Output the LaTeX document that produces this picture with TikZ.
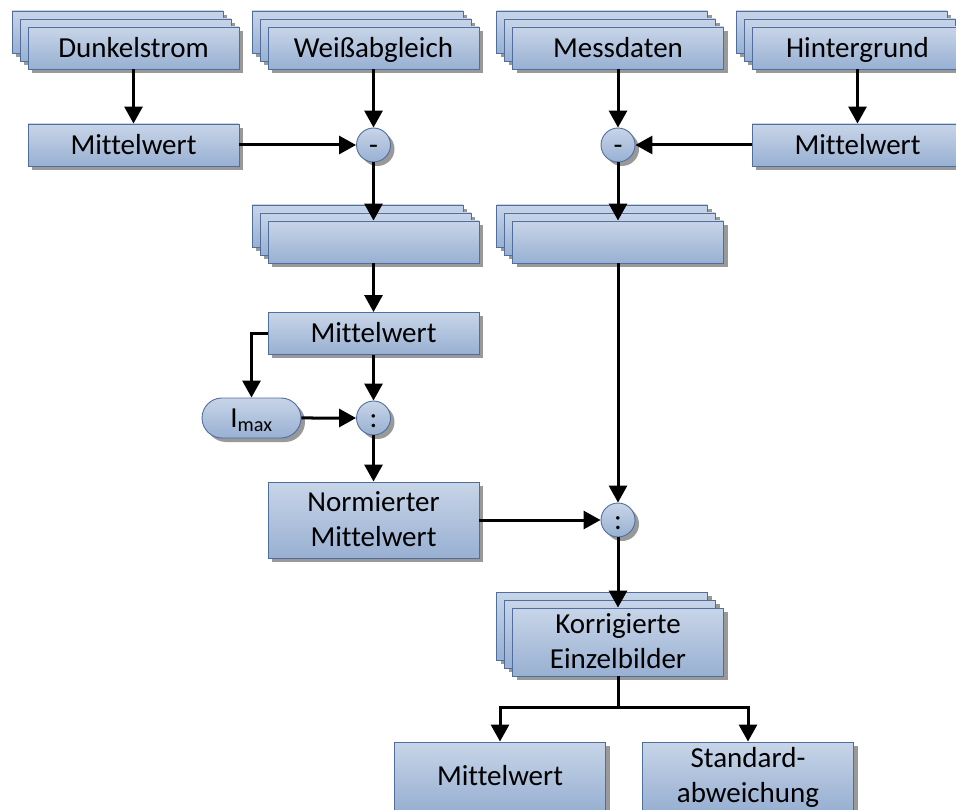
\documentclass[tikz,border=0pt]{standalone}
\usepackage{fontspec}
\setmainfont{Carlito}[Ligatures=NoCommon]
\usetikzlibrary{arrows.meta, shadows, shapes.misc}

\definecolor{boxtop}{HTML}{C8D5E8}
\definecolor{boxbottom}{HTML}{98B0D2}
\definecolor{boxborder}{HTML}{4F6E9E}

\begin{document}
\begin{tikzpicture}[x=1pt, y=-1pt,
    box/.style={draw=boxborder, line width=0.9pt, top color=boxtop, bottom color=boxbottom,
      minimum width=211pt, minimum height=42pt, inner sep=0pt, align=center,
      font=\fontsize{29}{35}\selectfont, text height=18.7pt, text depth=0pt,
      drop shadow={shadow xshift=4pt, shadow yshift=-4pt, fill=black!40, opacity=1}},
    twoline/.style={text height=53.7pt},
    op/.style={box, circle, minimum width=34pt, minimum height=34pt},
    pill/.style={box, rounded rectangle, minimum width=99pt, minimum height=40pt},
    arrow/.style={line width=3pt, -{Triangle[length=17pt, width=18pt]}}]
      \clip (0,0) rectangle (956,810);

      % 1. Eingangsstapel oben
      \foreach \name/\x/\txt in {dunkel/133.5/Dunkelstrom, weiss/373.5/Weißabgleich,
                                 mess/618/Messdaten, hinter/857.5/Hintergrund} {
        \node[box] at (\x-16,32) {};
        \node[box] at (\x-8,40) {};
        \node[box] (\name) at (\x,48) {\txt};
      }

      % 2. Mittelwerte und Differenzen
      \node[box] (mwD) at (133.5,145) {Mittelwert};
      \node[op] (subW) at (373.5,145) {-};
      \node[op] (subM) at (618,145) {-};
      \node[box] (mwH) at (857.5,145) {Mittelwert};

      % 3. Differenzstapel
      \foreach \name/\x in {diffW/373.5, diffM/618} {
        \node[box] at (\x-16,226) {};
        \node[box] at (\x-8,234) {};
        \node[box] (\name) at (\x,242) {};
      }

      % 4. Normierung
      \node[box] (mwW) at (373.5,333.5) {Mittelwert};
      \node[pill] (imax) at (251.5,418) {I\textsubscript{max}};
      \node[op] (divW) at (373.5,418) {:};
      \node[box, twoline, minimum height=76pt] (norm) at (373.5,520) {Normierter\\Mittelwert};
      \node[op] (divM) at (618,520) {:};

      % 5. Ergebnis
      \node[box, minimum height=68pt] at (602,626) {};
      \node[box, minimum height=68pt] at (610,634) {};
      \node[box, twoline, minimum height=68pt] (korr) at (618,642) {Korrigierte\\Einzelbilder};
      \coordinate (split) at (618,707);
      \node[box, minimum height=68pt] (mwK) at (500,776) {Mittelwert};
      \node[box, twoline, minimum height=68pt] (std) at (748,776) {Standard-\\abweichung};

      % 6. Verbindungen
      \draw[arrow] (dunkel) -- (mwD);
      \draw[arrow] (mwD) -- (subW);
      \draw[arrow] (weiss) -- (subW);
      \draw[arrow] (subW) -- (diffW);
      \draw[arrow] (mess) -- (subM);
      \draw[arrow] (hinter.south -| mwH) -- (mwH);
      \draw[arrow] (mwH.west) -- (subM);
      \draw[arrow] (subM) -- (diffM);
      \draw[arrow] (diffW) -- (mwW);
      \draw[arrow] (mwW.west) -| (imax.north);
      \draw[arrow] (mwW) -- (divW);
      \draw[arrow] (imax) -- (divW);
      \draw[arrow] (divW) -- (norm);
      \draw[arrow] (diffM) -- (divM);
      \draw[arrow] (norm.east |- divM) -- (divM);
      \draw[arrow] (divM) -- (korr);
      \draw[line width=3pt] (korr) -- (split);
      \draw[arrow] (split) -| (mwK.north);
      \draw[arrow] (split) -| (std.north);
    \end{tikzpicture}
\end{document}
